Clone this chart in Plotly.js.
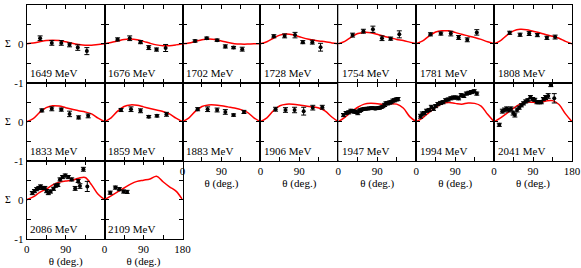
<!DOCTYPE html>
<html>
<head>
<meta charset="utf-8">
<script src="https://cdn.plot.ly/plotly-3.0.1.min.js"></script>
<style>html,body{margin:0;padding:0;background:#fff;}#chart{width:581px;height:268px;}</style>
</head>
<body>
<div id="chart"></div>
<script>
// Photon energies (MeV), one panel each
const energies = [1649, 1676, 1702, 1728, 1754, 1781, 1808, 1833, 1859, 1883, 1906, 1947, 1994, 2041, 2086, 2109];

// Measured points: angle (deg), beam asymmetry Sigma, error
const pointTheta = [
  [31, 58, 80, 99, 118, 139],
  [30, 58, 83, 102, 120, 141],
  [29, 56, 80, 99, 118, 138],
  [31, 56, 80, 98, 120, 139],
  [33, 58, 80, 101, 121, 141],
  [33, 57, 80, 98, 118, 140],
  [36, 60, 81, 100, 122, 141],
  [35, 58, 80, 99, 120, 142],
  [38, 61, 83, 102, 121, 143],
  [35, 58, 80, 99, 118, 142],
  [35, 58, 79, 100, 121, 143],
  [12, 18, 24, 29, 33, 37, 41, 45, 49, 52, 56, 60, 64, 68, 72, 76, 80, 84, 87, 91, 95, 99, 103, 107, 110, 114, 118, 122, 126, 130, 134, 138],
  [10, 14, 19, 24, 30, 35, 40, 45, 50, 56, 62, 68, 74, 80, 86, 92, 98, 104, 110, 116, 122, 128, 134, 140],
  [12, 19, 24, 29, 34, 39, 44, 48, 53, 58, 63, 68, 73, 78, 84, 89, 94, 99, 104, 109, 114, 119, 125, 131, 139],
  [13, 18, 23, 28, 32, 37, 42, 46, 50, 55, 62, 67, 72, 77, 83, 89, 96, 104, 112, 119, 123, 131, 140],
  [13, 25, 34, 44, 52]
];
const pointSigma = [
  [0.14, 0.02, 0.02, -0.03, -0.10, -0.19],
  [0.11, 0.14, 0.04, -0.10, -0.15, -0.11],
  [0.07, 0.14, 0.09, -0.07, -0.10, -0.14],
  [0.19, 0.20, 0.22, 0.04, 0.04, -0.09],
  [0.22, 0.32, 0.37, 0.14, 0.13, 0.24],
  [0.24, 0.26, 0.26, 0.16, 0.10, 0.29],
  [0.28, 0.23, 0.26, 0.22, 0.15, 0.17],
  [0.29, 0.33, 0.31, 0.20, 0.11, 0.15],
  [0.30, 0.32, 0.28, 0.13, 0.15, 0.19],
  [0.32, 0.32, 0.30, 0.25, 0.17, 0.25],
  [0.32, 0.30, 0.30, 0.27, 0.36, 0.37],
  [0.17, 0.22, 0.24, 0.28, 0.27, 0.26, 0.25, 0.22, 0.28, 0.30, 0.32, 0.33, 0.33, 0.34, 0.34, 0.35, 0.35, 0.34, 0.34, 0.35, 0.35, 0.37, 0.39, 0.43, 0.47, 0.47, 0.49, 0.50, 0.54, 0.55, 0.57, 0.58],
  [0.14, 0.20, 0.22, 0.28, 0.30, 0.38, 0.33, 0.40, 0.45, 0.48, 0.50, 0.55, 0.57, 0.60, 0.62, 0.62, 0.60, 0.68, 0.66, 0.72, 0.74, 0.76, 0.78, 0.72],
  [-0.08, 0.27, 0.30, 0.33, 0.30, 0.33, 0.22, 0.17, 0.30, 0.36, 0.42, 0.47, 0.52, 0.55, 0.63, 0.58, 0.56, 0.50, 0.50, 0.50, 0.58, 0.62, 0.66, 0.95, 0.60],
  [0.17, 0.22, 0.27, 0.30, 0.34, 0.30, 0.30, 0.22, 0.17, 0.21, 0.28, 0.36, 0.38, 0.52, 0.58, 0.62, 0.58, 0.52, 0.29, 0.48, 0.35, 0.78, 0.34],
  [0.18, 0.31, 0.27, 0.21, 0.20]
];
const pointErr = [
  [0.06, 0.06, 0.06, 0.05, 0.07, 0.09],
  [0.04, 0.06, 0.04, 0.05, 0.04, 0.09],
  [0.03, 0.03, 0.03, 0.04, 0.03, 0.05],
  [0.04, 0.05, 0.07, 0.04, 0.05, 0.10],
  [0.05, 0.05, 0.08, 0.06, 0.04, 0.09],
  [0.04, 0.04, 0.06, 0.05, 0.05, 0.07],
  [0.04, 0.04, 0.05, 0.04, 0.04, 0.05],
  [0.04, 0.05, 0.04, 0.07, 0.04, 0.05],
  [0.04, 0.06, 0.05, 0.03, 0.03, 0.05],
  [0.04, 0.06, 0.05, 0.06, 0.03, 0.04],
  [0.05, 0.06, 0.07, 0.10, 0.06, 0.05],
  [0.04, 0.04, 0.04, 0.04, 0.04, 0.04, 0.04, 0.04, 0.04, 0.04, 0.03, 0.03, 0.03, 0.03, 0.03, 0.03, 0.03, 0.03, 0.03, 0.03, 0.03, 0.03, 0.03, 0.04, 0.04, 0.04, 0.04, 0.04, 0.04, 0.04, 0.04, 0.04],
  [0.05, 0.05, 0.04, 0.04, 0.04, 0.04, 0.04, 0.04, 0.04, 0.04, 0.04, 0.04, 0.04, 0.04, 0.04, 0.04, 0.04, 0.04, 0.04, 0.04, 0.04, 0.04, 0.04, 0.04],
  [0.04, 0.05, 0.05, 0.05, 0.05, 0.05, 0.05, 0.05, 0.05, 0.04, 0.04, 0.04, 0.04, 0.04, 0.04, 0.04, 0.04, 0.04, 0.04, 0.04, 0.04, 0.05, 0.06, 0.05, 0.12],
  [0.04, 0.04, 0.04, 0.04, 0.04, 0.04, 0.04, 0.04, 0.04, 0.04, 0.04, 0.04, 0.04, 0.04, 0.04, 0.04, 0.04, 0.04, 0.05, 0.04, 0.06, 0.05, 0.13],
  [0.04, 0.04, 0.04, 0.04, 0.04]
];

// Model curves sampled on a common angle grid
const curveTheta = [0, 15, 30, 45, 60, 75, 90, 105, 120, 135, 150, 165, 180];
const curveSigma = [
  [0, 0.02, 0.05, 0.08, 0.09, 0.08, 0.05, 0.01, -0.02, -0.04, -0.04, -0.02, 0],
  [0, 0.03, 0.07, 0.11, 0.12, 0.10, 0.06, 0.01, -0.03, -0.05, -0.05, -0.03, 0],
  [0, 0.02, 0.06, 0.10, 0.12, 0.11, 0.07, 0.03, 0.00, -0.01, -0.01, 0, 0],
  [0, 0.05, 0.14, 0.22, 0.25, 0.23, 0.18, 0.13, 0.10, 0.07, 0.05, 0.02, 0],
  [0, 0.06, 0.17, 0.26, 0.29, 0.28, 0.24, 0.19, 0.15, 0.11, 0.08, 0.04, 0],
  [0, 0.07, 0.20, 0.30, 0.33, 0.33, 0.29, 0.24, 0.20, 0.16, 0.11, 0.05, 0],
  [0, 0.08, 0.22, 0.33, 0.37, 0.36, 0.32, 0.28, 0.23, 0.19, 0.14, 0.06, 0],
  [0, 0.08, 0.24, 0.36, 0.41, 0.40, 0.36, 0.32, 0.28, 0.25, 0.20, 0.09, 0],
  [0, 0.10, 0.27, 0.39, 0.43, 0.42, 0.38, 0.34, 0.30, 0.26, 0.20, 0.09, 0],
  [0, 0.10, 0.27, 0.39, 0.43, 0.43, 0.41, 0.38, 0.35, 0.31, 0.24, 0.10, 0],
  [0, 0.10, 0.28, 0.41, 0.45, 0.45, 0.43, 0.40, 0.38, 0.35, 0.27, 0.12, 0],
  [0, 0.11, 0.25, 0.37, 0.45, 0.47, 0.46, 0.45, 0.46, 0.45, 0.35, 0.13, 0],
  [0, 0.10, 0.24, 0.37, 0.46, 0.49, 0.47, 0.45, 0.48, 0.47, 0.40, 0.19, 0],
  [0, 0.10, 0.22, 0.35, 0.45, 0.50, 0.50, 0.49, 0.53, 0.54, 0.44, 0.20, 0],
  [0, 0.07, 0.19, 0.27, 0.38, 0.45, 0.48, 0.50, 0.55, 0.57, 0.38, 0.14, 0],
  [0, 0.10, 0.20, 0.30, 0.40, 0.47, 0.50, 0.53, 0.60, 0.46, 0.33, 0.22, 0]
];

const yTickVals = [-1, -0.5, 0, 0.5, 1];
const yTickTextTop = ['-1', '', '0', '', '1'];
const yTickTextLower = ['-1', '', '0', '', ''];
const xTickVals = [0, 45, 90, 135, 180];
const xTickText = ['0', '', '90', '', ''];
const xTickTextEnd = ['0', '', '90', '', '180'];

const W = 581, H = 268;
const left0 = 26.7, colW = 77.9, top0 = 4.7, rowH = 78;
const FONT = "'Liberation Serif', 'Times New Roman', serif";

const traces = [];
const layout = {
  width: W, height: H,
  margin: {l: 0, r: 0, t: 0, b: 0},
  paper_bgcolor: '#fff', plot_bgcolor: '#fff',
  showlegend: false,
  font: {family: FONT, size: 11, color: '#000'},
  annotations: []
};

energies.forEach((e, i) => {
  const c = i % 7, r = Math.floor(i / 7);
  const n = i + 1;
  const xa = n === 1 ? 'x' : 'x' + n;
  const ya = n === 1 ? 'y' : 'y' + n;
  const xKey = n === 1 ? 'xaxis' : 'xaxis' + n;
  const yKey = n === 1 ? 'yaxis' : 'yaxis' + n;
  const x0 = left0 + c * colW, x1 = x0 + colW;
  const yt = top0 + r * rowH, yb = yt + rowH;
  const bottomPanel = (r === 1 && c >= 2) || r === 2;
  const endOfRow = (i === 13 || i === 15);

  layout[xKey] = {
    domain: [x0 / W, x1 / W], anchor: ya, range: [0, 180],
    tickmode: 'array', tickvals: xTickVals, ticktext: endOfRow ? xTickTextEnd : xTickText,
    showticklabels: bottomPanel, ticks: 'inside', ticklen: 4, tickwidth: 1, tickcolor: '#000',
    showline: true, linecolor: '#000', linewidth: 1, mirror: 'ticks',
    showgrid: false, zeroline: false, fixedrange: true,
    tickfont: {family: FONT, size: 11, color: '#000'},
    title: bottomPanel ? {text: 'θ (deg.)', font: {family: FONT, size: 11, color: '#000'}, standoff: 2} : {text: ''}
  };
  layout[yKey] = {
    domain: [1 - yb / H, 1 - yt / H], anchor: xa, range: [-1, 1],
    tickmode: 'array', tickvals: yTickVals, ticktext: r === 0 ? yTickTextTop : yTickTextLower,
    showticklabels: c === 0, ticks: 'inside', ticklen: 4, tickwidth: 1, tickcolor: '#000',
    showline: true, linecolor: '#000', linewidth: 1, mirror: 'ticks',
    showgrid: false, zeroline: false, fixedrange: true,
    tickfont: {family: FONT, size: 11, color: '#000'}
  };

  traces.push({
    type: 'scatter', mode: 'lines', x: curveTheta, y: curveSigma[i],
    xaxis: xa, yaxis: ya, line: {color: '#ff0000', width: 1.5, shape: 'spline', smoothing: 1},
    hoverinfo: 'skip'
  });
  traces.push({
    type: 'scatter', mode: 'markers', x: pointTheta[i], y: pointSigma[i],
    xaxis: xa, yaxis: ya, marker: {color: '#000', size: 4},
    error_y: {type: 'data', array: pointErr[i], visible: true, color: '#000', thickness: 1, width: 2.5},
    hoverinfo: 'skip'
  });

  layout.annotations.push({
    xref: xa + ' domain', yref: ya + ' domain', x: 0.02, y: 0.12,
    xanchor: 'left', yanchor: 'middle', showarrow: false,
    text: e + ' MeV', font: {family: FONT, size: 11, color: '#000'}
  });
  if (c === 0) {
    layout.annotations.push({
      xref: 'paper', yref: 'paper', x: 8 / W, y: 1 - (yt + rowH / 2) / H,
      xanchor: 'center', yanchor: 'middle', showarrow: false,
      text: 'Σ', font: {family: FONT, size: 10, color: '#000'}
    });
  }
});

Plotly.newPlot('chart', traces, layout, {staticPlot: true, displayModeBar: false});
</script>
</body>
</html>
